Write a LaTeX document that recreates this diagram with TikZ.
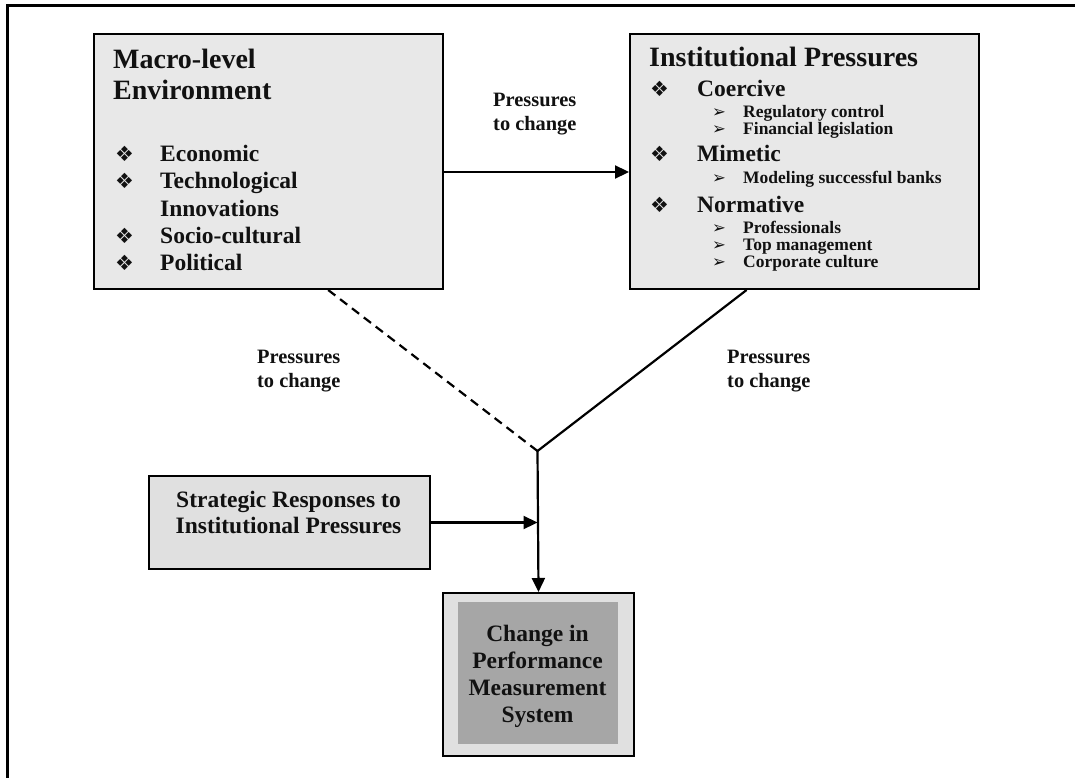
\documentclass[tikz,border=0pt]{standalone}
\usepackage{fontspec}
\setmainfont{Liberation Serif}
\newfontfamily\symfont{DejaVu Sans}
\usetikzlibrary{arrows.meta,calc}
\definecolor{ink}{HTML}{111111}
\definecolor{boxA}{HTML}{E8E8E8}
\definecolor{boxB}{HTML}{E0E0E0}
\definecolor{boxC}{HTML}{A6A6A6}
\begin{document}
\begin{tikzpicture}[x=1pt,y=-1pt,
  box/.style={draw=black, line width=2pt, inner sep=0pt, anchor=north west},
  txt/.style={inner sep=0pt, anchor=base west, text=ink},
  ttl/.style={txt, font=\fontsize{28}{30}\selectfont\bfseries},
  blt/.style={txt, font=\fontsize{23.5}{26}\selectfont\bfseries},
  sub/.style={txt, font=\fontsize{17.5}{20}\selectfont\bfseries},
  lbl/.style={txt, font=\fontsize{20.4}{23}\selectfont\bfseries},
  ctr/.style={txt, anchor=base, font=\fontsize{23.5}{26}\selectfont\bfseries},
  sym/.style={inner sep=0pt, anchor=base west, text=ink, font=\fontsize{21}{24}\selectfont\symfont},
  asym/.style={inner sep=0pt, anchor=base west, text=ink, font=\fontsize{16.5}{18}\selectfont\symfont},
  conn/.style={line width=2.2pt, draw=black},
  arr/.style={conn, -{Triangle[length=14pt,width=13pt]}}
]
\useasboundingbox (0,0) rectangle (1075,778);
\fill[white] (0,0) rectangle (1075,778);
% outer frame (cropped on right and bottom)
\draw[line width=3pt] (7,790) -- (7,6) -- (1090,6);

% boxes
\node[box, fill=boxA, minimum width=349pt, minimum height=255pt] (macro) at (93,33) {};
\node[box, fill=boxA, minimum width=349pt, minimum height=255pt] (inst) at (629,33) {};
\node[box, fill=boxB, minimum width=281pt, minimum height=93pt] (strat) at (148,475) {};
\node[box, fill=boxB, minimum width=191pt, minimum height=163pt] (change) at (442,592) {};
\node[anchor=north west, fill=boxC, inner sep=0pt, minimum width=160pt, minimum height=142pt] (changein) at (458,602) {};

% macro text
\node[ttl] (m1) at (113,69) {Macro-level};
\node[ttl] (m2) at (113,100) {Environment};
\node[sym] (mb1) at (115,162) {❖};
\node[blt] (mt1) at (160,162) {Economic};
\node[sym] (mb2) at (115,189) {❖};
\node[blt] (mt2) at (160,189) {Technological};
\node[blt] (mt3) at (160,216) {Innovations};
\node[sym] (mb4) at (115,243) {❖};
\node[blt] (mt4) at (160,243) {Socio-cultural};
\node[sym] (mb5) at (115,270) {❖};
\node[blt] (mt5) at (160,270) {Political};

% institutional text
\node[ttl] (i0) at (649,67) {Institutional Pressures};
\node[sym] (ib1) at (650,97) {❖};
\node[blt] (it1) at (697,97) {Coercive};
\node[asym] (ia1) at (712,118) {➢};
\node[sub] (is1) at (743,118) {Regulatory control};
\node[asym] (ia2) at (712,135) {➢};
\node[sub] (is2) at (743,135) {Financial legislation};
\node[sym] (ib2) at (650,162) {❖};
\node[blt] (it2) at (697,162) {Mimetic};
\node[asym] (ia3) at (712,183) {➢};
\node[sub] (is3) at (743,183) {Modeling successful banks};
\node[sym] (ib3) at (650,212) {❖};
\node[blt] (it3) at (697,212) {Normative};
\node[asym] (ia4) at (712,233) {➢};
\node[sub] (is4) at (743,233) {Professionals};
\node[asym] (ia5) at (712,250) {➢};
\node[sub] (is5) at (743,250) {Top management};
\node[asym] (ia6) at (712,267) {➢};
\node[sub] (is6) at (743,267) {Corporate culture};

% strategic text
\node[ctr] (s1) at (288.5,507) {Strategic Responses to};
\node[ctr] (s2) at (288.5,533) {Institutional Pressures};

% change text
\node[ctr] (c1) at (537.5,641) {Change in};
\node[ctr] (c2) at (537.5,668) {Performance};
\node[ctr] (c3) at (537.5,695) {Measurement};
\node[ctr] (c4) at (537.5,722) {System};

% labels
\node[lbl] (l1a) at (493,107) {Pressures};
\node[lbl] (l1b) at (493,131) {to change};
\node[lbl] (l2a) at (257,363) {Pressures};
\node[lbl] (l2b) at (257,387) {to change};
\node[lbl] (l3a) at (727,363) {Pressures};
\node[lbl] (l3b) at (727,387) {to change};

% connectors
\coordinate (ay) at (0,172);
\coordinate (j) at (537.5,451);
\draw[arr] (macro.east |- ay) -- (inst.west |- ay);
\draw[conn, dash pattern=on 9pt off 6pt] ($(macro.south west)!0.67!(macro.south east)$) -- (j);
\draw[conn] ($(inst.south west)!0.335!(inst.south east)$) -- (j);
\draw[arr] (j) -- (change.north);
\draw[arr] (strat.east) -- (strat.east -| j);
\end{tikzpicture}
\end{document}
